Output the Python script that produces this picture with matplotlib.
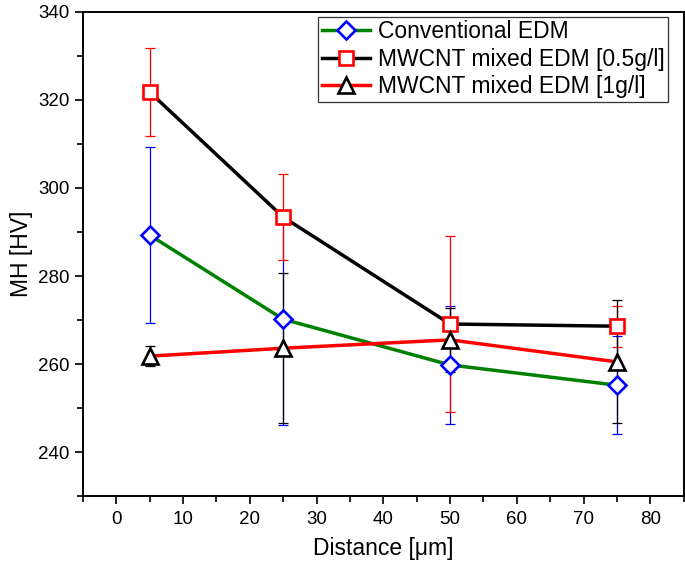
import matplotlib.pyplot as plt
from matplotlib.ticker import MultipleLocator

plt.rcParams['font.family'] = ['Liberation Sans', 'DejaVu Sans']

distance = [5, 25, 50, 75]

conv = [289.3, 270.2, 259.8, 255.2]
conv_err = [20.0, 24.0, 13.5, 11.2]

cnt05 = [321.8, 293.4, 269.1, 268.6]
cnt05_err = [10.0, 9.7, 20.0, 4.7]

cnt1 = [261.8, 263.6, 265.5, 260.5]
cnt1_err = [2.2, 17.0, 7.3, 14.0]

labels = ["Conventional EDM", "MWCNT mixed EDM [0.5g/l]", "MWCNT mixed EDM [1g/l]"]

fig = plt.figure(figsize=(6.85, 5.67), dpi=100)
ax = fig.add_axes([0.121, 0.125, 0.877, 0.854])

series = [
    (conv, conv_err, "green", "blue", "D", 9),
    (cnt05, cnt05_err, "black", "red", "s", 10),
    (cnt1, cnt1_err, "red", "black", "^", 11),
]

for (y, e, lc, mc, m, ms), lab in zip(series, labels):
    ax.errorbar(distance, y, yerr=e, fmt="none", ecolor=mc, elinewidth=0.9,
                capsize=3.6, capthick=0.9, zorder=2)
    ax.plot(distance, y, color=lc, lw=2.5, marker=m, ms=ms, mec=mc,
            mfc="white", mew=1.9, label=lab, zorder=3)

ax.set_xlim(-5, 85)
ax.set_ylim(230, 340)
ax.xaxis.set_major_locator(MultipleLocator(10))
ax.xaxis.set_minor_locator(MultipleLocator(5))
ax.yaxis.set_major_locator(MultipleLocator(20))
ax.yaxis.set_minor_locator(MultipleLocator(10))
ax.tick_params(which="major", direction="out", length=6, width=1.2, labelsize=13.5)
ax.tick_params(which="minor", direction="out", length=4, width=1.2)
ax.tick_params(axis="x", pad=5)
for s in ax.spines.values():
    s.set_linewidth(1.4)

ax.set_xlabel("Distance [\u03bcm]", fontsize=16.5, labelpad=6)
ax.set_ylabel("MH [HV]", fontsize=16.5)

leg = ax.legend(loc="upper right", bbox_to_anchor=(0.974, 0.99), borderaxespad=0,
                fontsize=16.5, frameon=True, fancybox=False, edgecolor="black",
                handlelength=2.1, handletextpad=0.35, labelspacing=0.2,
                borderpad=0.15)
leg.get_frame().set_linewidth(0.9)

fig.savefig("out.png", dpi=100)
